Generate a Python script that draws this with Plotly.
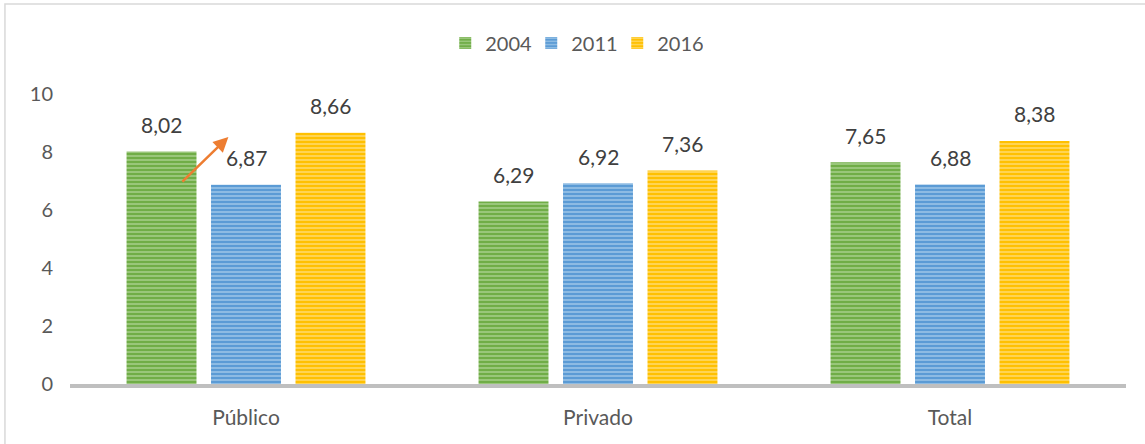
import plotly.graph_objects as go

categories = ["Público", "Privado", "Total"]
years = ["2004", "2011", "2016"]
v2004 = [8.02, 6.29, 7.65]
v2011 = [6.87, 6.92, 6.88]
v2016 = [8.66, 7.36, 8.38]
y_ticks = [0, 2, 4, 6, 8, 10]

series = [v2004, v2011, v2016]
colors = ["#70ad47", "#5b9bd5", "#ffc000"]
stripe = ["#c2e0ad", "#c0dbf2", "#ffe8a3"]

W, H = 1145, 444
ML, MR, MT, MB = 70, 19, 94, 60
BARGAP, GROUPGAP = 0.28, 0.172

fig = go.Figure()
for name, vals, c, s in zip(years, series, colors, stripe):
    fig.add_trace(go.Bar(
        x=categories, y=vals, name=name,
        marker=dict(color=c, line=dict(width=0),
                    pattern=dict(shape="-", fgcolor=s, bgcolor=c, size=4, solidity=0.5, fillmode="overlay")),
        cliponaxis=False,
    ))

# value labels above bars
plot_w = W - ML - MR
slot = plot_w / len(categories) * (1 - BARGAP) / len(series)
for i, vals in enumerate(series):
    for cat, v in zip(categories, vals):
        fig.add_annotation(x=cat, y=v, text=f"{v:.2f}".replace(".", ","), showarrow=False,
                           xshift=(i - 1) * slot, yshift=27, yanchor="middle",
                           font=dict(size=21, color="#404040"))

fig.update_layout(
    width=W, height=H,
    margin=dict(l=ML, r=MR, t=MT, b=MB, autoexpand=False),
    paper_bgcolor="white", plot_bgcolor="white",
    separators=",.",
    font=dict(family="Lato, 'Open Sans', sans-serif", color="#595959", size=19),
    barmode="group", bargap=BARGAP, bargroupgap=GROUPGAP,
    legend=dict(orientation="h", x=0.4775, xanchor="center", y=1.176, yanchor="middle",
                font=dict(size=20, color="#595959"), itemwidth=30, entrywidth=41,
                traceorder="normal"),
    xaxis=dict(showline=True, linecolor="#bfbfbf", linewidth=3.5, ticks="", showgrid=False,
               automargin=False, ticklabelstandoff=12, tickfont=dict(size=21)),
    yaxis=dict(range=[0, 10], tickvals=y_ticks, showgrid=False, zeroline=False, showline=False,
               automargin=False, ticklabelstandoff=16, tickfont=dict(size=20)),
    showlegend=True,
)

fig.add_annotation(x=-0.05, y=8.52, ax=-0.185, ay=6.93, xref="x", yref="y", axref="x", ayref="y",
                   showarrow=True, arrowhead=2, arrowsize=1.2, arrowwidth=2.5, arrowcolor="#ed7d31", text="")

fig.add_shape(type="rect", xref="paper", yref="paper", x0=-0.0616, x1=1.03, y0=-0.25, y1=1.31,
              line=dict(color="#d9d9d9", width=1.5), fillcolor="rgba(0,0,0,0)", layer="below")

fig.write_html("out.html", config={"displayModeBar": False},
               post_script="document.body.style.margin='0';document.body.style.overflow='hidden';")
